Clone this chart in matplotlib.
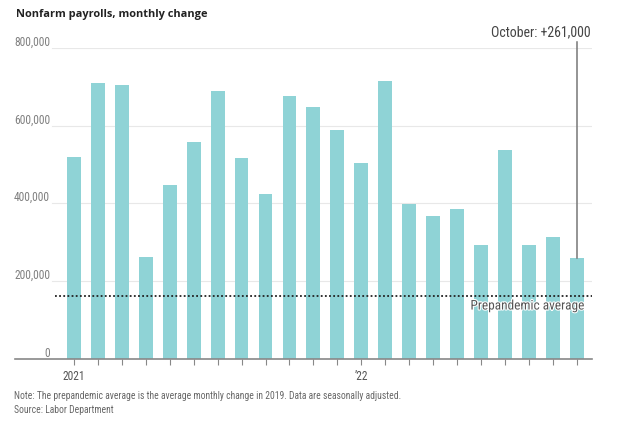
import matplotlib
matplotlib.use("Agg")
import matplotlib.pyplot as plt
import matplotlib.patheffects as pe

months = ["Jan 2021", "Feb 2021", "Mar 2021", "Apr 2021", "May 2021", "Jun 2021",
          "Jul 2021", "Aug 2021", "Sep 2021", "Oct 2021", "Nov 2021", "Dec 2021",
          "Jan 2022", "Feb 2022", "Mar 2022", "Apr 2022", "May 2022", "Jun 2022",
          "Jul 2022", "Aug 2022", "Sep 2022", "Oct 2022"]
payroll_change = [520000, 710000, 704000, 263000, 447000, 557000, 689000, 517000,
                  424000, 677000, 647000, 588000, 504000, 714000, 398000, 368000,
                  386000, 293000, 537000, 292000, 315000, 261000]
prepandemic_avg = 163000
y_ticks = [0, 200000, 400000, 600000, 800000]
y_tick_labels = ["0", "200,000", "400,000", "600,000", "800,000"]
x_label_positions = {0: "2021", 12: "\u201922"}

plt.rcParams['font.family'] = ['Roboto Condensed', 'Open Sans', 'DejaVu Sans']
COND = ['Roboto Condensed', 'DejaVu Sans']

W, H = 630, 430
fig = plt.figure(figsize=(W / 100, H / 100), dpi=100)
ax = fig.add_axes([15 / W, (H - 359) / H, (592 - 15) / W, (359 - 48) / H])

x = list(range(len(payroll_change)))
bar_color = "#8fd3d6"
ax.bar(x, payroll_change, width=0.58, color=bar_color, zorder=2)

xlim = (-2.45, 21.62)
ax.set_xlim(*xlim)
ax.set_ylim(0, 800000)

x_grid_start = xlim[0] + (52 - 15) / 24.0
for yv, lab in zip(y_ticks, y_tick_labels):
    if yv > 0:
        ax.plot([x_grid_start, xlim[1]], [yv, yv], color="#e8e8e8", lw=0.8, zorder=1)
    ax.text(x_grid_start - 0.08, yv - 1500, lab, ha="right", va="bottom",
            fontsize=8.3, color="#808080", family=COND)

for s in ["top", "right", "left"]:
    ax.spines[s].set_visible(False)
ax.spines["bottom"].set_color("#888888")
ax.spines["bottom"].set_linewidth(1.2)
ax.set_yticks([])
ax.set_xticks(x)
ax.set_xticklabels([""] * len(x))
ax.tick_params(axis="x", length=4, color="#888888", width=0.8)
for pos, lab in x_label_positions.items():
    ax.text(pos, -28000, lab, ha="center", va="top", fontsize=8.3, color="#555555",
            family=COND)

ax.plot([-0.8, xlim[1]], [prepandemic_avg, prepandemic_avg], color="#222222",
        lw=1.3, ls=(0, (1, 1.3)), zorder=3)
ax.text(xlim[1] - 0.3, prepandemic_avg - 10000, "Prepandemic average", ha="right", va="top",
        fontsize=9.6, color="#555555", zorder=4, family=COND,
        path_effects=[pe.withStroke(linewidth=1.5, foreground="white")])

last = len(payroll_change) - 1
ax.plot([last, last], [payroll_change[last], 815000], color="#777777", lw=1.1,
        zorder=3, clip_on=False)
ax.text(xlim[1] - 0.05, 822000, "October: +261,000", ha="right", va="bottom",
        fontsize=10, color="#444444", family=COND)

fig.text(16 / W, 1 - 14 / H, "Nonfarm payrolls, monthly change", ha="left", va="center",
         fontsize=7.9, fontweight="bold", color="#222222", family=['Open Sans', 'DejaVu Sans'])
fig.text(14 / W, 1 - 396 / H,
         "Note: The prepandemic average is the average monthly change in 2019. Data are seasonally adjusted.",
         ha="left", va="center", fontsize=6.95, color="#666666", family=COND)
fig.text(14 / W, 1 - 410 / H, "Source: Labor Department", ha="left", va="center",
         fontsize=6.95, color="#666666", family=COND)

fig.savefig("out.png", dpi=100)
